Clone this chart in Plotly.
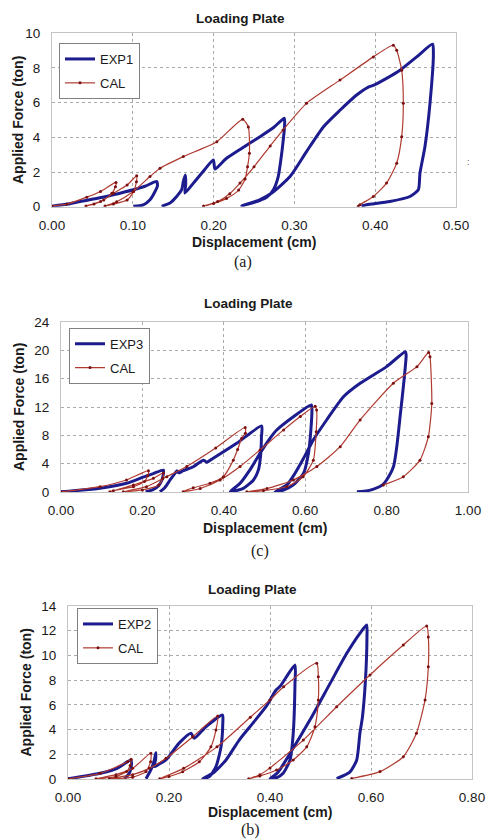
import plotly.graph_objects as go

N = None
# ---------------- Panel (a) ----------------
exp1_x = [0, 0.02, 0.035, 0.055, 0.076, 0.1006, 0.115, 0.1296, 0.1305, 0.1275, 0.1213, 0.113, 0.1006, N,
          0.1357, 0.146, 0.1543, 0.1605, 0.1625, 0.165, 0.1655, 0.1646, 0.175, 0.187, 0.1997, 0.2017, 0.215,
          0.2327, 0.2574, 0.275, 0.2875, 0.2878, 0.2863, 0.2843, 0.28, 0.274, 0.266, 0.257, 0.245, 0.235,
          0.245, 0.257, 0.272, 0.2946, 0.315, 0.3358, 0.3564, 0.377, 0.3915, 0.3977, 0.414, 0.4307, 0.4513,
          0.471, 0.472, 0.4678, 0.4616, 0.4554, 0.4534, 0.443, 0.418, 0.3895, 0.383]
exp1_y = [0.03, 0.15, 0.3, 0.47, 0.69, 0.98, 1.18, 1.45, 1.2, 0.88, 0.4, 0.11, 0.02, N,
          0.02, 0.21, 0.59, 0.98, 1.45, 1.83, 1.3, 0.79, 1.36, 2.03, 2.7, 2.17, 2.75,
          3.3, 4.04, 4.6, 5.1, 4.6, 3.9, 3.08, 1.74, 0.98, 0.55, 0.35, 0.18, 0.05,
          0.2, 0.4, 0.79, 1.74, 3.18, 4.6, 5.56, 6.44, 6.9, 7.0, 7.4, 7.87, 8.64,
          9.37, 8.8, 5.96, 3.47, 1.94, 0.98, 0.59, 0.3, 0.11, 0.04]
cal_a_x = [0, 0.0185, 0.043, 0.06, 0.0792, 0.0785, 0.074, 0.064, 0.052, 0.042,
           0.06, 0.076, 0.093, 0.1048, 0.1045, 0.101, 0.093, 0.076, 0.0656,
           0.08, 0.1006, 0.1213, 0.1337, 0.1625, 0.204, 0.236, 0.243, 0.2443, 0.242, 0.239, 0.231, 0.216, 0.2, 0.1875,
           0.205, 0.22, 0.2327, 0.25, 0.27, 0.286, 0.315, 0.3564, 0.3977, 0.4224,
           0.4266, 0.4328, 0.4348, 0.4328, 0.4266, 0.414, 0.3977, 0.381, 0.379]
cal_a_y = [0.04, 0.15, 0.55, 0.88, 1.4, 1.15, 0.77, 0.38, 0.15, 0.04,
           0.3, 0.77, 1.25, 1.78, 1.44, 0.87, 0.38, 0.15, 0.04,
           0.29, 0.88, 1.74, 2.22, 2.89, 3.75, 5.04, 4.6, 3.08, 2.3, 1.6, 0.96, 0.48, 0.19, 0.04,
           0.3, 0.75, 1.36, 2.3, 3.5, 4.43, 5.96, 7.3, 8.64, 9.31,
           9.02, 7.87, 5.96, 4.04, 2.51, 1.36, 0.59, 0.11, 0.02]

# ---------------- Panel (c) ----------------
exp3_x = [0, 0.096, 0.161, 0.202, 0.227, 0.2516, 0.251, 0.248, 0.24, 0.225, 0.208, N,
          0.243, 0.255, 0.268, 0.28, 0.285, 0.29, 0.3, 0.325, 0.35, 0.358, 0.374, 0.4316, 0.493,
          0.4925, 0.491, 0.485, 0.473, 0.448, 0.4156,
          0.44, 0.465, 0.489, 0.51, 0.53, 0.571, 0.615, 0.6165, 0.614, 0.608, 0.596, 0.571, 0.547, 0.526,
          0.555, 0.575, 0.596, 0.62, 0.653, 0.694, 0.735, 0.80, 0.846,
          0.848, 0.843, 0.834, 0.825, 0.817, 0.80, 0.79, 0.768, 0.745, 0.727]
exp3_y = [0.02, 0.52, 1.23, 2.1, 2.6, 3.1, 2.4, 1.7, 0.9, 0.3, 0.04, N,
          0.04, 0.6, 1.7, 2.64, 3.0, 2.7, 3.0, 3.57, 4.5, 4.2, 4.76, 6.87, 9.32,
          7.8, 5.5, 3.1, 1.7, 0.52, 0.03,
          1.23, 3.2, 5.46, 7.3, 8.75, 10.63, 12.3, 11.8, 8.8, 5.47, 2.64, 1.0, 0.28, 0.03,
          1.0, 2.64, 4.76, 7.36, 10.2, 13.45, 15.35, 17.7, 19.8,
          19.4, 15.85, 11.1, 6.4, 3.6, 1.7, 1.0, 0.4, 0.1, 0.03]
cal_c_x = [0, 0.096, 0.161, 0.2148, 0.213, 0.205, 0.178, 0.1287, 0.12,
           0.178, 0.227, 0.2516, 0.25, 0.24, 0.2, 0.153,
           0.21, 0.26, 0.309, 0.38, 0.4525, 0.453, 0.444, 0.434, 0.4234, 0.399, 0.366, 0.325, 0.30,
           0.342, 0.391, 0.44, 0.489, 0.547, 0.588, 0.6246, 0.628, 0.627, 0.62, 0.595, 0.5545, 0.4975, 0.4566,
           0.506, 0.571, 0.6287, 0.686, 0.735, 0.8165, 0.8746, 0.9033,
           0.9066, 0.911, 0.9025, 0.882, 0.841, 0.792]
cal_c_y = [0.02, 0.75, 1.7, 3.0, 2.3, 1.5, 0.75, 0.19, 0.02,
           1.0, 1.93, 2.7, 1.9, 1.0, 0.3, 0.02,
           0.75, 2.17, 3.6, 6.2, 9.1, 8.3, 7.6, 6.0, 4.5, 2.16, 1.23, 0.6, 0.05,
           0.5, 1.7, 3.6, 5.94, 8.77, 10.66, 12.1, 11.58, 8.5, 4.5, 2.16, 0.75, 0.2, 0.02,
           0.5, 1.7, 3.6, 6.4, 10.17, 15.35, 17.7, 19.7,
           19.1, 12.5, 7.8, 4.5, 2.16, 1.0]

# ---------------- Panel (b) ----------------
exp2_x = [0, 0.064, 0.097, 0.1248, 0.1255, 0.1215, 0.1115, N,
          0.1545, 0.164, 0.171, 0.174, 0.1735, 0.171, 0.18, 0.194, 0.22, 0.2436, 0.25, 0.273, 0.306,
          0.3065, 0.303, 0.293, 0.28, 0.2667,
          0.2865, 0.3129, 0.339, 0.3657, 0.392, 0.412, 0.42, 0.4495,
          0.4495, 0.446, 0.4396, 0.426, 0.413, 0.4,
          0.415, 0.4396, 0.479, 0.519, 0.552, 0.578, 0.5914,
          0.592, 0.589, 0.583, 0.578, 0.5717, 0.558, 0.532]
exp2_y = [0.02, 0.46, 0.86, 1.54, 1.1, 0.46, 0.02, N,
          0.02, 0.73, 1.54, 2.13, 1.6, 1.0, 1.2, 1.54, 2.9, 3.7, 3.3, 4.23, 5.18,
          4.5, 2.6, 1.0, 0.19, 0.02,
          0.46, 1.54, 3.15, 4.5, 5.85, 7.2, 7.5, 9.22,
          7.8, 3.7, 1.54, 0.46, 0.1, 0.02,
          0.5, 2.07, 4.77, 7.74, 10.17, 11.79, 12.46,
          11.5, 8.0, 5.0, 3.7, 1.54, 0.55, 0.03]
cal_b_x = [0, 0.064, 0.118, 0.125, 0.123, 0.116, 0.095, 0.0554,
           0.095, 0.128, 0.164, 0.1635, 0.1545, 0.128, 0.082,
           0.128, 0.161, 0.194, 0.247, 0.2964, 0.293, 0.283, 0.26, 0.227, 0.2, 0.1815,
           0.229, 0.295, 0.361, 0.4, 0.427, 0.4925,
           0.4957, 0.4957, 0.489, 0.4727, 0.446, 0.413, 0.38, 0.3578,
           0.38, 0.4, 0.466, 0.532, 0.598, 0.664, 0.7103,
           0.7135, 0.7135, 0.707, 0.69, 0.664, 0.618, 0.5617]
cal_b_y = [0.02, 0.46, 1.4, 1.6, 1.1, 0.6, 0.2, 0.02,
           0.35, 0.86, 2.08, 1.4, 0.6, 0.15, 0.02,
           0.35, 0.86, 1.67, 3.42, 5.1, 3.97, 2.6, 1.4, 0.59, 0.2, 0.02,
           0.86, 2.6, 5.0, 6.4, 7.46, 9.36,
           8.28, 6.4, 4.23, 2.6, 1.54, 0.73, 0.25, 0.02,
           0.35, 0.9, 3.15, 5.85, 8.42, 10.84, 12.38,
           11.5, 9.09, 6.4, 3.7, 1.8, 0.6, 0.05]

panel_titles = ["Loading Plate", "Loading Plate", "Loading Plate"]
panel_labels = ["(a)", "(c)", "(b)"]
exp_names = ["EXP1", "EXP3", "EXP2"]
x_ranges = [[0, 0.5], [0, 1.0], [0, 0.8]]
x_dticks = [0.1, 0.2, 0.2]
y_ranges = [[0, 10], [0, 24], [0, 14]]
y_dticks = [2, 4, 2]

W, H = 486, 839
BLUE = "#1c1c8e"
RED = "#b03a30"
RED_M = "#7a1010"
FONT = "Liberation Sans, Arial, sans-serif"

# pixel boxes of the three plot areas: (left, right, top, bottom)
boxes = [(52, 456, 33.3, 206.7), (61, 468, 322, 492), (68, 472, 606, 779)]

fig = go.Figure()
data = [(exp1_x, exp1_y, cal_a_x, cal_a_y), (exp3_x, exp3_y, cal_c_x, cal_c_y),
        (exp2_x, exp2_y, cal_b_x, cal_b_y)]
legend_ids = ["legend", "legend2", "legend3"]
legend_pos = [(59, 43), (69, 327.7), (77, 608)]

for i, (ex, ey, cx, cy) in enumerate(data):
    sfx = "" if i == 0 else str(i + 1)
    fig.add_trace(go.Scatter(x=ex, y=ey, mode="lines", name=exp_names[i],
                             line=dict(color=BLUE, width=3, shape="spline", smoothing=0.6),
                             connectgaps=False,
                             xaxis="x" + sfx, yaxis="y" + sfx, legend=legend_ids[i],
                             legendgroup="exp" + sfx))
    fig.add_trace(go.Scatter(x=cx, y=cy, mode="lines+markers", name="CAL",
                             line=dict(color=RED, width=1.2, shape="spline", smoothing=0.6),
                             marker=dict(color=RED_M, size=3),
                             xaxis="x" + sfx, yaxis="y" + sfx, legend=legend_ids[i],
                             legendgroup="cal" + sfx))

layout = dict(width=W, height=H, margin=dict(l=0, r=0, t=0, b=0, autoexpand=False),
              paper_bgcolor="white", plot_bgcolor="white",
              font=dict(family=FONT, color="#1a1a1a"))
annotations = []
for i, (l, r, t, b) in enumerate(boxes):
    sfx = "" if i == 0 else str(i + 1)
    axis_common = dict(showgrid=True, gridcolor="#ababab", griddash="dot", gridwidth=1,
                       showline=True, mirror=True, linecolor="#c4c4c4", linewidth=1,
                       zeroline=False, ticks="", automargin=False,
                       tickfont=dict(size=13.5, family=FONT, color="#1a1a1a"))
    layout["xaxis" + sfx] = dict(domain=[l / W, r / W], anchor="y" + sfx, range=x_ranges[i],
                                 dtick=x_dticks[i], tick0=0, tickformat=".2f",
                                 ticklabelstandoff=6, **axis_common)
    layout["yaxis" + sfx] = dict(domain=[1 - b / H, 1 - t / H], anchor="x" + sfx, range=y_ranges[i],
                                 dtick=y_dticks[i], tick0=0, ticklabelstandoff=8, **axis_common)
    lx, ly = legend_pos[i]
    layout[legend_ids[i]] = dict(x=lx / W, y=1 - ly / H, xanchor="left", yanchor="top",
                                 bordercolor="#808080", borderwidth=1, bgcolor="white",
                                 font=dict(size=13, family=FONT, color="#1a1a1a"),
                                 tracegroupgap=4, itemwidth=30)

title_pos = [(240, 19), (248, 304), (252, 589)]
ytitle_pos = [(18, 120), (19, 407), (25, 692.5)]
xtitle_pos = [(254, 242), (264.5, 528.3), (270, 812.3)]
label_pos = [(243, 262), (260, 550.5), (250, 830)]
for i in range(3):
    tx, ty = title_pos[i]
    annotations.append(dict(text="<b>%s</b>" % panel_titles[i], x=tx / W, y=1 - ty / H,
                            xref="paper", yref="paper", showarrow=False, xanchor="center", yanchor="middle",
                            font=dict(size=13.5, family=FONT, color="#1a1a1a")))
    yx, yy = ytitle_pos[i]
    annotations.append(dict(text="<b>Applied Force (ton)</b>", x=yx / W, y=1 - yy / H, textangle=-90,
                            xref="paper", yref="paper", showarrow=False, xanchor="center", yanchor="middle",
                            font=dict(size=14, family=FONT, color="#1a1a1a")))
    xx, xy = xtitle_pos[i]
    annotations.append(dict(text="<b>Displacement (cm)</b>", x=xx / W, y=1 - xy / H,
                            xref="paper", yref="paper", showarrow=False, xanchor="center", yanchor="middle",
                            font=dict(size=14, family=FONT, color="#1a1a1a")))
    lx, ly = label_pos[i]
    annotations.append(dict(text=panel_labels[i], x=lx / W, y=1 - ly / H,
                            xref="paper", yref="paper", showarrow=False, xanchor="center", yanchor="middle",
                            font=dict(size=16, family="Liberation Serif, Times New Roman, serif", color="#1a1a1a")))
annotations.append(dict(text=":", x=472 / W, y=1 - 155 / H, xref="paper", yref="paper", showarrow=False,
                        font=dict(size=9, family=FONT, color="#555555")))
layout["annotations"] = annotations
fig.update_layout(**layout)
fig.write_html("out.html", config={"displayModeBar": False},
               post_script="document.body.style.margin='0px';document.body.style.overflow='hidden';")
